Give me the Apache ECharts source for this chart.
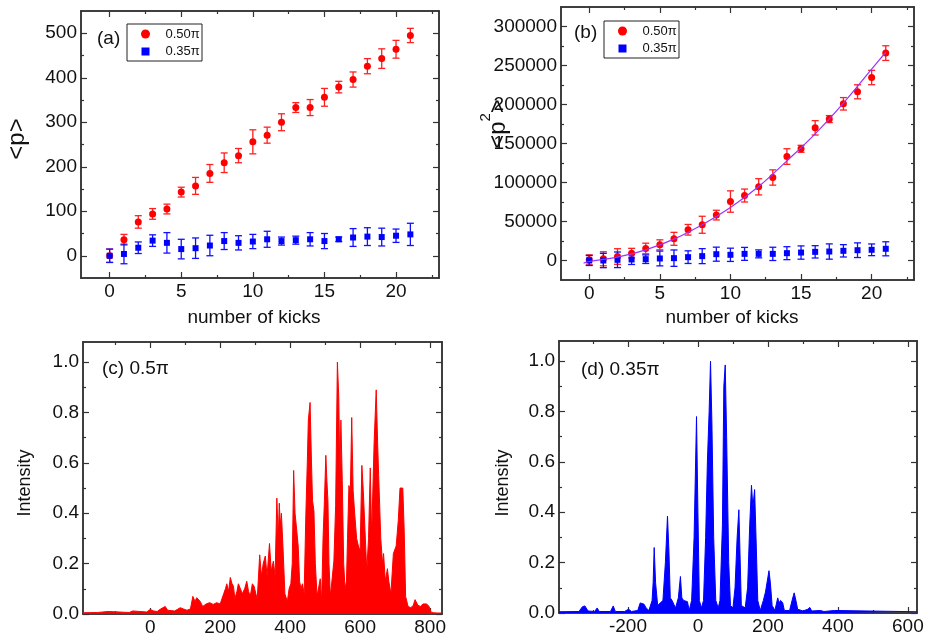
<!DOCTYPE html>
<html>
<head>
<meta charset="utf-8">
<script src="https://cdn.jsdelivr.net/npm/echarts@6/dist/echarts.min.js"></script>
<style>
  html, body { margin: 0; padding: 0; background: #fff; }
  #chart { width: 925px; height: 636px; }
</style>
</head>
<body>
<div id="chart"></div>
<script>
// number of kicks
var kicks = [0, 1, 2, 3, 4, 5, 6, 7, 8, 9, 10, 11, 12, 13, 14, 15, 16, 17, 18, 19, 20, 21]

// (a) <p>
var pRed = [0, 36, 76, 94, 105, 143, 157, 185, 209, 225, 256, 271, 300, 333, 333, 356, 379, 396, 426, 443, 464, 495]
var pRedErr = [15, 12, 14, 12, 11, 11, 19, 20, 22, 16, 27, 18, 19, 11, 18, 20, 13, 17, 17, 22, 20, 16]
var pBlue = [0, 4, 18, 34, 29, 15, 17, 23, 33, 29, 32, 37, 33, 35, 37, 33, 37, 41, 43, 42, 45, 48]
var pBlueErr = [15, 22, 13, 13, 23, 22, 23, 23, 19, 16, 16, 18, 9, 9, 15, 17, 5, 20, 20, 20, 15, 25]

// (b) <p^2>
var p2Red = [900, 2200, 5100, 9400, 15400, 20100, 27800, 39400, 45800, 58200, 75600, 83300, 94500, 106400, 133300, 143200, 170100, 181300, 200900, 216300, 234600, 265900]
var p2RedErr = [6400, 9000, 10000, 6200, 6800, 6400, 8300, 6800, 10900, 6200, 13700, 8300, 10400, 9800, 10000, 4500, 9200, 4500, 8000, 9000, 9200, 9400]
var p2Blue = [0, 0, 900, 1300, 1700, 2600, 3000, 4300, 5600, 8100, 7300, 8500, 8500, 8500, 9400, 10200, 11100, 11500, 12400, 13200, 13700, 15000]
var p2BlueErr = [6400, 9200, 10000, 6400, 5500, 9500, 10500, 8100, 9600, 9000, 8500, 8300, 5100, 8500, 8300, 8500, 7900, 9800, 7900, 9400, 7500, 9000]

// fit curve in (b)
var fitX = [-0.4, 0, 2, 4, 6, 8, 10, 12, 14, 16, 18, 20, 21]
var fitY = [-3300, -1300, 4300, 13700, 27400, 45800, 68000, 94900, 127800, 162400, 201800, 245400, 267000]

// (c) 0.5pi momentum distribution [p, intensity]
var specC = [
  [-192, 0.005], [-150, 0.006], [-120, 0.01], [-115, 0.005], [-60, 0.006], [-50, 0.012], [-45, 0.006], [-10, 0.008],
  [0, 0.018], [10, 0.012], [20, 0.01], [30, 0.02], [43, 0.03], [50, 0.015], [70, 0.012], [86, 0.025], [95, 0.02],
  [105, 0.015], [115, 0.02], [122, 0.07], [128, 0.05], [133, 0.065], [143, 0.05], [150, 0.03], [160, 0.04],
  [170, 0.045], [180, 0.038], [190, 0.045], [200, 0.04], [205, 0.045], [210, 0.08], [215, 0.1], [219, 0.12],
  [224, 0.09], [229, 0.145], [234, 0.12], [238, 0.11], [242, 0.06], [248, 0.09], [252, 0.12], [258, 0.1],
  [263, 0.08], [270, 0.1], [276, 0.13], [281, 0.09], [286, 0.07], [292, 0.12], [297, 0.11], [302, 0.08],
  [306, 0.06], [313, 0.235], [318, 0.15], [323, 0.2], [329, 0.23], [334, 0.15], [341, 0.28], [346, 0.17],
  [352, 0.21], [357, 0.15], [362, 0.46], [366, 0.3], [369, 0.44], [372, 0.35], [375, 0.4], [380, 0.25],
  [385, 0.08], [392, 0.05], [397, 0.1], [402, 0.12], [406, 0.2], [410, 0.57], [414, 0.4], [419, 0.33],
  [423, 0.27], [427, 0.13], [431, 0.1], [435, 0.12], [440, 0.08], [445, 0.4], [449, 0.6], [452, 0.77],
  [457, 0.84], [461, 0.6], [464, 0.45], [468, 0.41], [472, 0.2], [477, 0.07], [482, 0.07], [486, 0.14],
  [490, 0.05], [494, 0.3], [498, 0.45], [502, 0.63], [505, 0.53], [508, 0.45], [511, 0.2], [515, 0.07],
  [520, 0.07], [525, 0.21], [530, 0.43], [535, 1.0], [539, 0.86], [542, 0.55], [545, 0.77], [549, 0.53],
  [553, 0.2], [557, 0.1], [561, 0.13], [564, 0.3], [568, 0.51], [572, 0.48], [576, 0.78], [580, 0.49],
  [585, 0.39], [590, 0.3], [595, 0.27], [600, 0.25], [605, 0.59], [609, 0.49], [614, 0.33], [619, 0.17],
  [624, 0.3], [629, 0.58], [633, 0.31], [640, 0.68], [646, 0.89], [650, 0.68], [653, 0.55], [659, 0.3],
  [664, 0.2], [667, 0.24], [672, 0.13], [678, 0.18], [682, 0.13], [688, 0.08], [695, 0.24], [703, 0.27],
  [709, 0.37], [714, 0.5], [722, 0.5], [726, 0.33], [730, 0.07], [737, 0.03], [745, 0.025], [752, 0.035],
  [757, 0.057], [765, 0.035], [772, 0.03], [780, 0.04], [790, 0.04], [797, 0.03], [802, 0.008], [810, 0.005],
  [815, 0.01], [820, 0.004], [834, 0.004]
]

// (d) 0.35pi momentum distribution [p, intensity]
var specD = [
  [-397, 0.005], [-340, 0.006], [-330, 0.025], [-323, 0.028], [-314, 0.008], [-295, 0.006], [-288, 0.02],
  [-282, 0.006], [-250, 0.006], [-242, 0.028], [-236, 0.006], [-210, 0.006], [-198, 0.015], [-190, 0.006],
  [-172, 0.01], [-165, 0.04], [-161, 0.045], [-154, 0.035], [-148, 0.02], [-140, 0.01], [-131, 0.05],
  [-128, 0.12], [-125, 0.26], [-121, 0.12], [-115, 0.03], [-100, 0.05], [-93, 0.2], [-87, 0.385], [-83, 0.25],
  [-79, 0.06], [-74, 0.05], [-70, 0.045], [-64, 0.02], [-56, 0.06], [-50, 0.145], [-46, 0.06], [-41, 0.05],
  [-36, 0.045], [-30, 0.045], [-25, 0.01], [-18, 0.05], [-11, 0.3], [-4, 0.78], [0, 0.4], [4, 0.05], [10, 0.02],
  [16, 0.05], [22, 0.3], [27, 0.6], [32, 0.8], [36, 1.0], [40, 0.75], [45, 0.3], [51, 0.05], [58, 0.02],
  [63, 0.05], [70, 0.35], [74, 0.9], [78, 0.985], [82, 0.7], [88, 0.2], [93, 0.03], [100, 0.02], [106, 0.1],
  [112, 0.3], [117, 0.41], [120, 0.25], [124, 0.03], [135, 0.02], [142, 0.1], [148, 0.35], [153, 0.507],
  [157, 0.42], [162, 0.49], [166, 0.3], [171, 0.05], [178, 0.01], [187, 0.05], [193, 0.083], [197, 0.08],
  [203, 0.168], [207, 0.12], [212, 0.03], [220, 0.01], [228, 0.06], [232, 0.04], [236, 0.05], [242, 0.042],
  [247, 0.01], [262, 0.01], [269, 0.05], [275, 0.08], [280, 0.05], [285, 0.015], [300, 0.008], [314, 0.015],
  [320, 0.022], [325, 0.008], [350, 0.01], [355, 0.012], [360, 0.006], [390, 0.01], [395, 0.005], [626, 0.005]
]

// tick positions
var kickMajor = [0, 5, 10, 15, 20]
var kickMinor = [2.5, 7.5, 12.5, 17.5, 22.5]
var pMajor = [0, 100, 200, 300, 400, 500]
var pMinor = [50, 150, 250, 350, 450]
var p2Major = [0, 50000, 100000, 150000, 200000, 250000, 300000]
var p2Minor = [25000, 75000, 125000, 175000, 225000, 275000]
var cMajor = [0, 200, 400, 600, 800]
var cMinor = [-100, 100, 300, 500, 700]
var dMajor = [-200, 0, 200, 400, 600]
var dMinor = [-300, -100, 100, 300, 500]
var intMajor = [0, 0.2, 0.4, 0.6, 0.8, 1.0]
var intMinor = [0.1, 0.3, 0.5, 0.7, 0.9]

var legendNames = ['0.50π', '0.35π']

var FONT = 'Liberation Sans, Arial, sans-serif'
var AXIS_COLOR = '#333'
var TEXT_COLOR = '#111'

function axis(grid, pos, min, max, ticks, len, labels, fmt) {
  return {
    type: 'value', gridIndex: grid, position: pos, min: min, max: max,
    axisLine: { show: true, onZero: false, lineStyle: { color: AXIS_COLOR, width: 1.5 } },
    axisTick: { show: true, inside: true, length: len, customValues: ticks, lineStyle: { color: AXIS_COLOR, width: 1.2 } },
    axisLabel: labels ? {
      show: true, customValues: labels, formatter: fmt, margin: 4,
      fontSize: 19, color: TEXT_COLOR, fontFamily: FONT
    } : { show: false },
    splitLine: { show: false }
  }
}

// 4 axes per side: main with labels, mirror, and the short minor ticks on both
function frame(grid, dim, min, max, major, minor, fmt) {
  var a = dim === 'x' ? ['bottom', 'top'] : ['left', 'right']
  return [
    axis(grid, a[0], min, max, major, 6, major, fmt),
    axis(grid, a[1], min, max, major, 6, null),
    axis(grid, a[0], min, max, minor, 3, null),
    axis(grid, a[1], min, max, minor, 3, null)
  ]
}

var intFmt = function (v) { return v.toFixed(1) }
var intLabel = function (v) { return String(Math.round(v)) }

var xAxes = [].concat(
  frame(0, 'x', -2, 23, kickMajor, kickMinor, intLabel),
  frame(1, 'x', -2, 23, kickMajor, kickMinor, intLabel),
  frame(2, 'x', -192, 834, cMajor, cMinor, intLabel),
  frame(3, 'x', -397, 626, dMajor, dMinor, intLabel)
)
var yAxes = [].concat(
  frame(0, 'y', -50, 550, pMajor, pMinor, intLabel),
  frame(1, 'y', -25000, 325000, p2Major, p2Minor, intLabel),
  frame(2, 'y', 0, 1.08, intMajor, intMinor, intFmt),
  frame(3, 'y', 0, 1.08, intMajor, intMinor, intFmt)
)

function errorBar(params, api) {
  var x = api.value(0), y = api.value(1), e = api.value(2)
  var hi = api.coord([x, y + e])
  var lo = api.coord([x, y - e])
  var style = { stroke: api.visual('color'), lineWidth: 1.3 }
  return {
    type: 'group',
    children: [
      { type: 'line', shape: { x1: hi[0], y1: hi[1], x2: lo[0], y2: lo[1] }, style: style },
      { type: 'line', shape: { x1: hi[0] - 3.5, y1: hi[1], x2: hi[0] + 3.5, y2: hi[1] }, style: style },
      { type: 'line', shape: { x1: lo[0] - 3.5, y1: lo[1], x2: lo[0] + 3.5, y2: lo[1] }, style: style }
    ]
  }
}

function withErr(vals, errs) {
  return kicks.map(function (k, i) { return [k, vals[i], errs[i]] })
}
function points(vals) {
  return kicks.map(function (k, i) { return [k, vals[i]] })
}

var SQUARE = 'path://M0,0L10,0L10,10L0,10Z'

function errSeries(g, vals, errs, color) {
  return {
    type: 'custom', xAxisIndex: g * 4, yAxisIndex: g * 4, renderItem: errorBar,
    encode: { x: 0, y: 1 }, data: withErr(vals, errs), itemStyle: { color: color }, z: 2
  }
}
function dotSeries(g, name, vals, color, symbol, size) {
  return {
    type: 'scatter', name: name, xAxisIndex: g * 4, yAxisIndex: g * 4, data: points(vals),
    symbol: symbol, symbolSize: size, itemStyle: { color: color, opacity: 1 }, z: 3
  }
}

// boxed key in the upper left corner of a panel
function legendBox(left, top) {
  return {
    type: 'group', x: left, y: top, silent: true, z: 100,
    children: [
      { type: 'rect', shape: { x: 0, y: 0, width: 75, height: 37 }, style: { fill: '#fff', stroke: '#222', lineWidth: 1 } },
      { type: 'circle', shape: { cx: 18.5, cy: 10, r: 4.5 }, style: { fill: '#ff0000' } },
      { type: 'rect', shape: { x: 14.5, y: 23.5, width: 8, height: 8 }, style: { fill: '#0000ff' } },
      { type: 'text', x: 38.5, y: 10, style: { text: legendNames[0], fontSize: 13, fontFamily: FONT, fill: TEXT_COLOR, verticalAlign: 'middle' } },
      { type: 'text', x: 38.5, y: 27.5, style: { text: legendNames[1], fontSize: 13, fontFamily: FONT, fill: TEXT_COLOR, verticalAlign: 'middle' } }
    ]
  }
}

function label(x, y, text, size, rot, align) {
  return {
    type: 'text', x: x, y: y, rotation: rot || 0, silent: true,
    style: {
      text: text, fontSize: size, fontFamily: FONT, fill: TEXT_COLOR,
      align: align || 'center', verticalAlign: 'middle'
    }
  }
}

var chart = echarts.init(document.getElementById('chart'))
chart.setOption({
  animation: false,
  backgroundColor: '#fff',
  grid: [
    { left: 81, top: 11, width: 358, height: 267, outerBoundsMode: 'none' },
    { left: 561, top: 7, width: 353, height: 273, outerBoundsMode: 'none' },
    { left: 83, top: 342, width: 359, height: 272, outerBoundsMode: 'none' },
    { left: 559, top: 341, width: 358, height: 272, outerBoundsMode: 'none' }
  ],
  xAxis: xAxes,
  yAxis: yAxes,
  series: [
    errSeries(0, pRed, pRedErr, '#ff2020'),
    errSeries(0, pBlue, pBlueErr, '#1010ff'),
    dotSeries(0, legendNames[0], pRed, '#ff0000', 'circle', 7),
    dotSeries(0, legendNames[1], pBlue, '#0000ff', SQUARE, 6),
    errSeries(1, p2Red, p2RedErr, '#ff2020'),
    errSeries(1, p2Blue, p2BlueErr, '#1010ff'),
    dotSeries(1, legendNames[0], p2Red, '#ff0000', 'circle', 7),
    dotSeries(1, legendNames[1], p2Blue, '#0000ff', SQUARE, 6),
    {
      type: 'line', xAxisIndex: 4, yAxisIndex: 4, z: 4, smooth: 0.4, showSymbol: false, symbol: 'none',
      data: fitX.map(function (x, i) { return [x, fitY[i]] }),
      lineStyle: { color: '#9933ff', width: 1.2 }
    },
    {
      type: 'line', xAxisIndex: 8, yAxisIndex: 8, data: specC, symbol: 'none', showSymbol: false,
      lineStyle: { color: '#ff0000', width: 1 }, areaStyle: { color: '#ff0000', opacity: 1 }
    },
    {
      type: 'line', xAxisIndex: 12, yAxisIndex: 12, data: specD, symbol: 'none', showSymbol: false,
      lineStyle: { color: '#0000ff', width: 1 }, areaStyle: { color: '#0000ff', opacity: 1 }
    }
  ],
  graphic: [
    legendBox(127, 24),
    legendBox(604, 21),
    label(17, 139, '<p>', 24, Math.PI / 2),
    {
      type: 'text', x: 498, y: 124, rotation: Math.PI / 2, silent: true,
      style: {
        text: '{m|<p}{s|2}{m|>}', align: 'center', verticalAlign: 'middle', fill: TEXT_COLOR,
        rich: {
          m: { fontSize: 24, lineHeight: 40, fontFamily: FONT, fill: TEXT_COLOR },
          s: { fontSize: 15, lineHeight: 15, verticalAlign: 'top', fontFamily: FONT, fill: TEXT_COLOR }
        }
      }
    },
    label(254, 318, 'number of kicks', 19),
    label(732, 318, 'number of kicks', 19),
    label(25, 483, 'Intensity', 18, Math.PI / 2),
    label(503, 483, 'Intensity', 18, Math.PI / 2),
    label(97, 39, '(a)', 19, 0, 'left'),
    label(574, 33, '(b)', 19, 0, 'left'),
    label(102, 369, '(c) 0.5π', 19, 0, 'left'),
    label(581, 370, '(d) 0.35π', 19, 0, 'left')
  ]
})
</script>
</body>
</html>
